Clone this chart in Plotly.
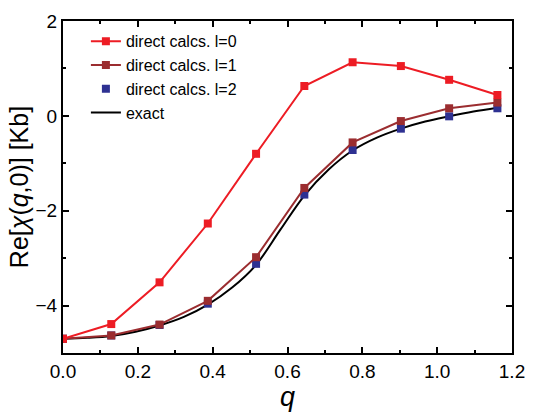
import plotly.graph_objects as go

q = [0.0, 0.129, 0.258, 0.387, 0.516, 0.645, 0.774, 0.903, 1.032, 1.161]
l0 = [-4.70, -4.39, -3.51, -2.27, -0.80, 0.63, 1.13, 1.05, 0.76, 0.44]
l1 = [-4.70, -4.63, -4.40, -3.90, -2.98, -1.52, -0.56, -0.11, 0.16, 0.28]
l2 = [-4.70, -4.63, -4.41, -3.96, -3.12, -1.66, -0.72, -0.27, -0.01, 0.16]
q_exact = [0.0, 0.065, 0.129, 0.194, 0.258, 0.323, 0.387, 0.452, 0.516, 0.581, 0.645, 0.71, 0.774, 0.839, 0.903, 0.968, 1.032, 1.097, 1.161]
exact = [-4.70, -4.68, -4.64, -4.55, -4.42, -4.24, -3.98, -3.62, -3.14, -2.40, -1.68, -1.13, -0.73, -0.46, -0.27, -0.12, -0.01, 0.09, 0.17]

RED = "#ED1C24"
BROWN = "#9B2D30"
BLUE = "#2E3192"
FONT = "Arial, Liberation Sans, sans-serif"

fig = go.Figure()
fig.add_trace(go.Scatter(x=q_exact, y=exact, mode="lines", name="exact",
                         line=dict(color="black", width=2, shape="spline")))
fig.add_trace(go.Scatter(x=q, y=l2, mode="markers", name="direct calcs. l=2",
                         marker=dict(symbol="square", size=8, color=BLUE)))
fig.add_trace(go.Scatter(x=q, y=l1, mode="lines+markers", name="direct calcs. l=1",
                         line=dict(color=BROWN, width=2),
                         marker=dict(symbol="square", size=8, color=BROWN)))
fig.add_trace(go.Scatter(x=q, y=l0, mode="lines+markers", name="direct calcs. l=0",
                         line=dict(color=RED, width=2),
                         marker=dict(symbol="square", size=8, color=RED)))

axis_common = dict(showline=True, linecolor="black", linewidth=2, mirror="ticks",
                   ticks="inside", ticklen=6, tickwidth=2, tickcolor="black",
                   showgrid=False, zeroline=False, ticklabeloverflow="allow",
                   tickfont=dict(family=FONT, size=19, color="black"))

fig.update_xaxes(range=[0, 1.2], dtick=0.2, tickformat=".1f",
                 minor=dict(ticks="inside", ticklen=3, tickwidth=2, tickcolor="black", dtick=0.1),
                 title=dict(text="<i>q</i>", font=dict(family=FONT, size=27, color="black"), standoff=4),
                 **axis_common)
fig.update_yaxes(range=[-5, 2], dtick=2,
                 minor=dict(ticks="inside", ticklen=3, tickwidth=2, tickcolor="black", dtick=1),
                 title=dict(text="Re[<i>χ</i>(<i>q</i>,0)] [Kb]", font=dict(family=FONT, size=25, color="black"), standoff=0),
                 **axis_common)

fig.update_layout(width=536, height=416,
                  margin=dict(l=63, r=11, t=15, b=62),
                  plot_bgcolor="white", paper_bgcolor="white",
                  legend=dict(x=0.051, y=0.99, xanchor="left", yanchor="top",
                              traceorder="reversed", bgcolor="rgba(0,0,0,0)",
                              font=dict(family=FONT, size=16, color="black"),
                              tracegroupgap=0))

fig.write_html("out.html")
